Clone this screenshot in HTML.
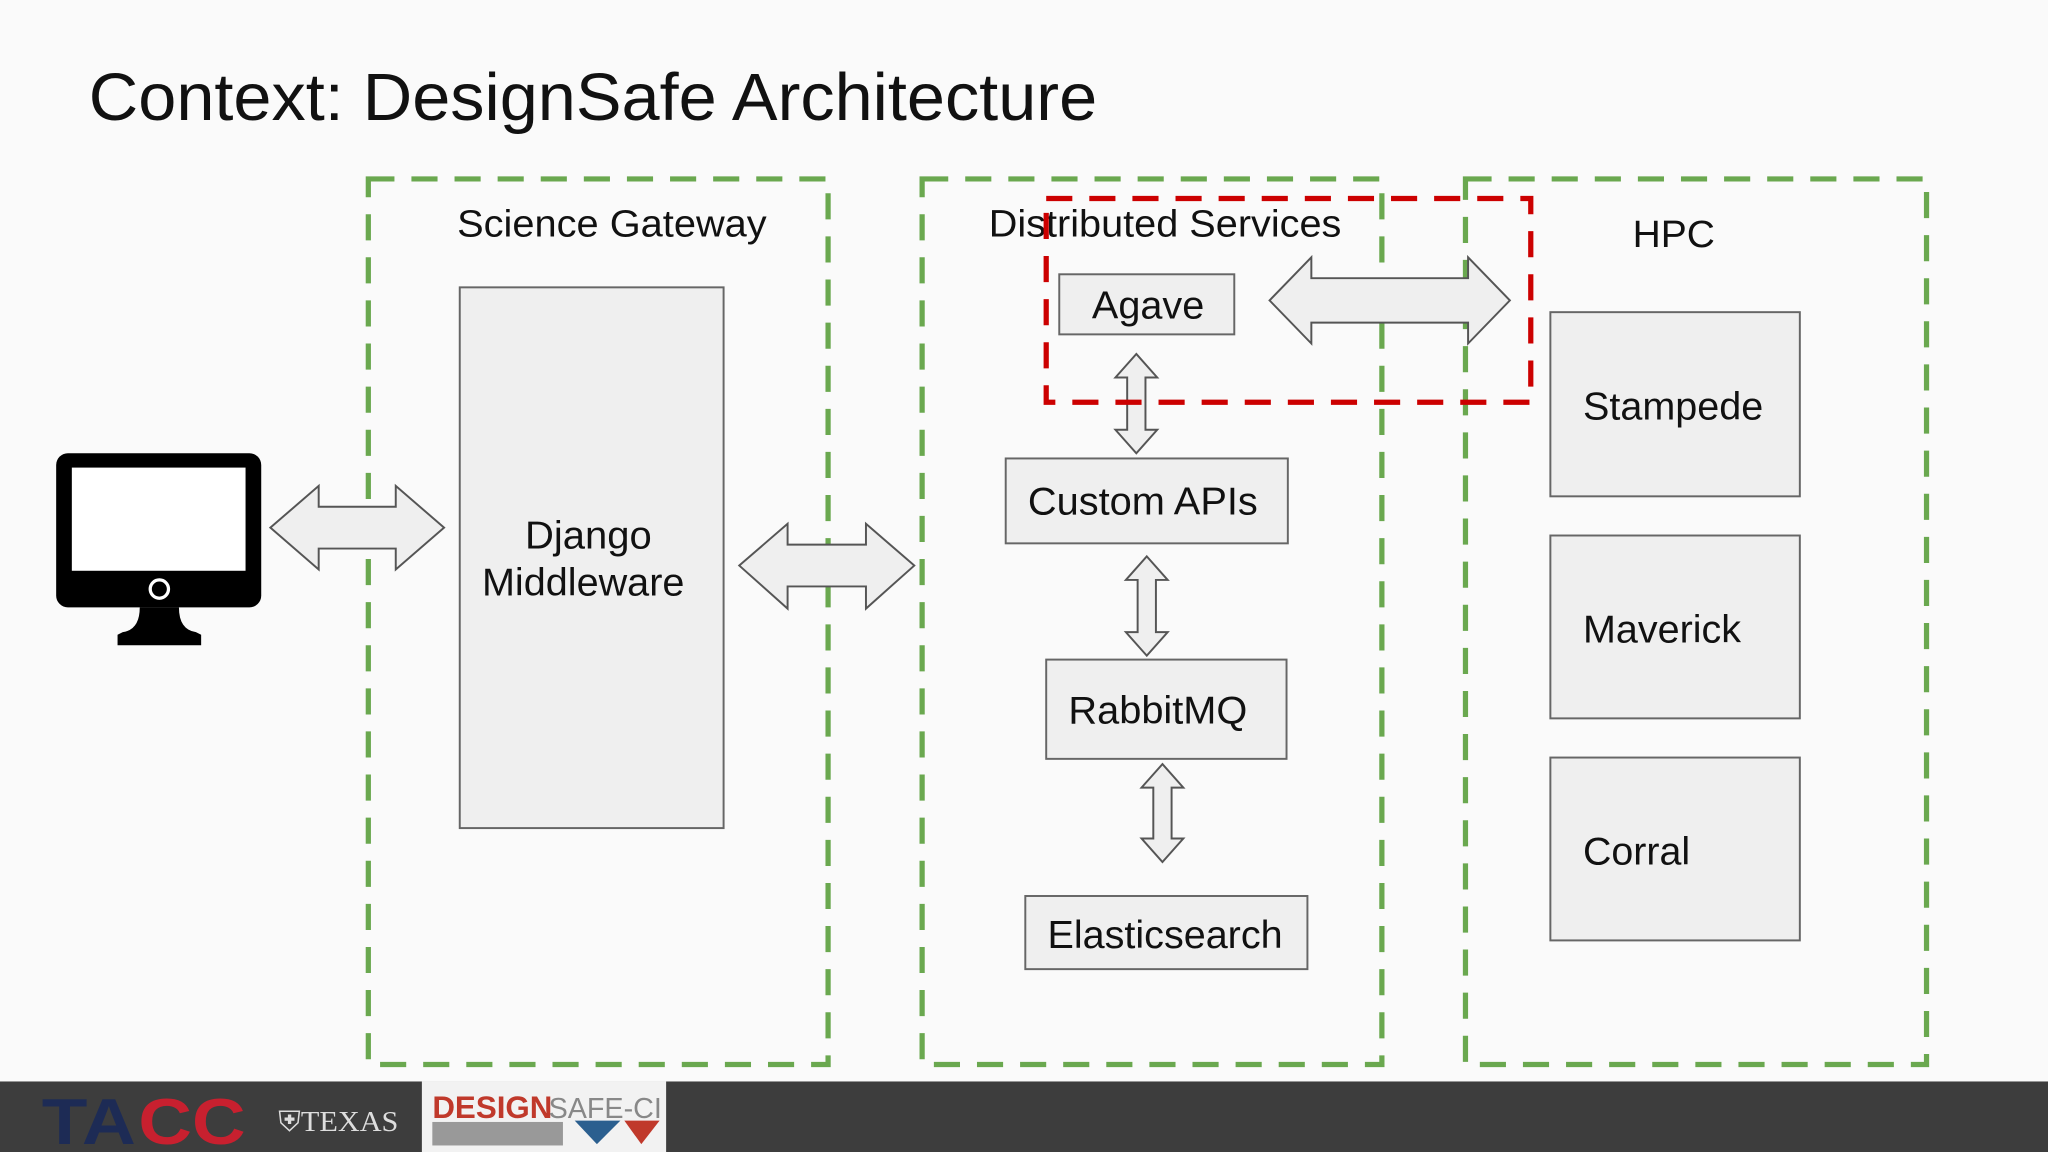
<!DOCTYPE html>
<html><head><meta charset="utf-8"><style>
html,body{margin:0;padding:0;background:#fafafa;}
svg{display:block;}
text{font-family:"Liberation Sans",Arial,sans-serif;fill:#111;}
</style></head><body>
<svg width="2048" height="1152" viewBox="0 0 1568 882" xmlns="http://www.w3.org/2000/svg">
<rect x="0" y="0" width="1568" height="882" fill="#fafafa"/>
<text x="68" y="92" font-size="51" textLength="772" lengthAdjust="spacingAndGlyphs">Context: DesignSafe Architecture</text>

<!-- green dashed groups -->
<g fill="none" stroke="#6aa84f" stroke-width="4" stroke-dasharray="20 13">
<rect x="282" y="137" width="352" height="678"/>
<rect x="706" y="137" width="352" height="678"/>
<rect x="1122" y="137" width="353" height="678"/>
</g>
<text x="350" y="181" font-size="29" textLength="237" lengthAdjust="spacingAndGlyphs">Science Gateway</text>
<text x="757" y="181" font-size="29" textLength="270" lengthAdjust="spacingAndGlyphs">Distributed Services</text>
<text x="1250" y="189" font-size="29" textLength="63" lengthAdjust="spacingAndGlyphs">HPC</text>

<!-- boxes -->
<g fill="#efefef" stroke="#666" stroke-width="1.5">
<rect x="352" y="220" width="202" height="414"/>
<rect x="811" y="210" width="134" height="46"/>
<rect x="770" y="351" width="216" height="65"/>
<rect x="801" y="505" width="184" height="76"/>
<rect x="785" y="686" width="216" height="56"/>
<rect x="1187" y="239" width="191" height="141"/>
<rect x="1187" y="410" width="191" height="140"/>
<rect x="1187" y="580" width="191" height="140"/>
</g>
<g font-size="30">
<text x="402" y="420" textLength="97" lengthAdjust="spacingAndGlyphs">Django</text>
<text x="369" y="456" textLength="155" lengthAdjust="spacingAndGlyphs">Middleware</text>
<text x="836" y="244" textLength="86" lengthAdjust="spacingAndGlyphs">Agave</text>
<text x="787" y="394" textLength="176" lengthAdjust="spacingAndGlyphs">Custom APIs</text>
<text x="818" y="554" textLength="137" lengthAdjust="spacingAndGlyphs">RabbitMQ</text>
<text x="802" y="726" textLength="180" lengthAdjust="spacingAndGlyphs">Elasticsearch</text>
<text x="1212" y="321" textLength="138" lengthAdjust="spacingAndGlyphs">Stampede</text>
<text x="1212" y="492" textLength="121" lengthAdjust="spacingAndGlyphs">Maverick</text>
<text x="1212" y="662" textLength="82" lengthAdjust="spacingAndGlyphs">Corral</text>
</g>

<!-- arrows -->
<g fill="#efefef" stroke="#555" stroke-width="1.5">
<polygon points="207,404 244,372 244,388 303,388 303,372 340,404 303,436 303,420 244,420 244,436"/>
<polygon points="566,433 603,401 603,417 663,417 663,401 700,433 663,466 663,449 603,449 603,466"/>
<polygon points="972,230 1004,197 1004,213 1124,213 1124,197 1156,230 1124,263 1124,247 1004,247 1004,263"/>
<polygon points="870,271 886,289 877,289 877,329 886,329 870,347 854,329 863,329 863,289 854,289"/>
<polygon points="878,426 894,444 885,444 885,484 894,484 878,502 862,484 871,484 871,444 862,444"/>
<polygon points="890,585 906,603 897,603 897,642 906,642 890,660 874,642 883,642 883,603 874,603"/>
</g>

<!-- red dashed -->
<rect x="801" y="152" width="371" height="156" fill="none" stroke="#cc0000" stroke-width="4" stroke-dasharray="20 13"/>

<!-- monitor -->
<rect x="43" y="347" width="157" height="118" rx="9" fill="#000"/>
<rect x="55" y="358" width="133" height="79" fill="#fff"/>
<circle cx="122" cy="451" r="7" fill="none" stroke="#fff" stroke-width="2.5"/>
<path d="M107,465 L137,465 Q137,482 150,484 L154,486 L154,494 L90,494 L90,486 L94,484 Q107,482 107,465Z" fill="#000"/>

<!-- footer -->
<rect x="0" y="828" width="1568" height="54" fill="#3d3d3d"/>
<text x="32" y="876" font-size="50" font-weight="bold" textLength="72" lengthAdjust="spacingAndGlyphs" style="fill:#1d2b55">TA</text>
<text x="106" y="876" font-size="50" font-weight="bold" textLength="82" lengthAdjust="spacingAndGlyphs" style="fill:#c8202f">CC</text>
<text x="213" y="866" font-size="22" textLength="92" lengthAdjust="spacingAndGlyphs" style="fill:#ddd;font-family:'Liberation Serif',serif">⛨TEXAS</text>
<rect x="323" y="828" width="187" height="54" fill="#f2f2f2"/>
<text x="331" y="856" font-size="24" font-weight="bold" style="fill:#c0392b">DESIGN</text>
<text x="420" y="856" font-size="22" style="fill:#888">SAFE-CI</text>
<rect x="331" y="859" width="100" height="18" fill="#999"/>
<polygon points="440,858 475,858 457,876" fill="#2b5f8f"/>
<polygon points="478,858 505,858 491,876" fill="#c0392b"/>
</svg>
</body></html>
